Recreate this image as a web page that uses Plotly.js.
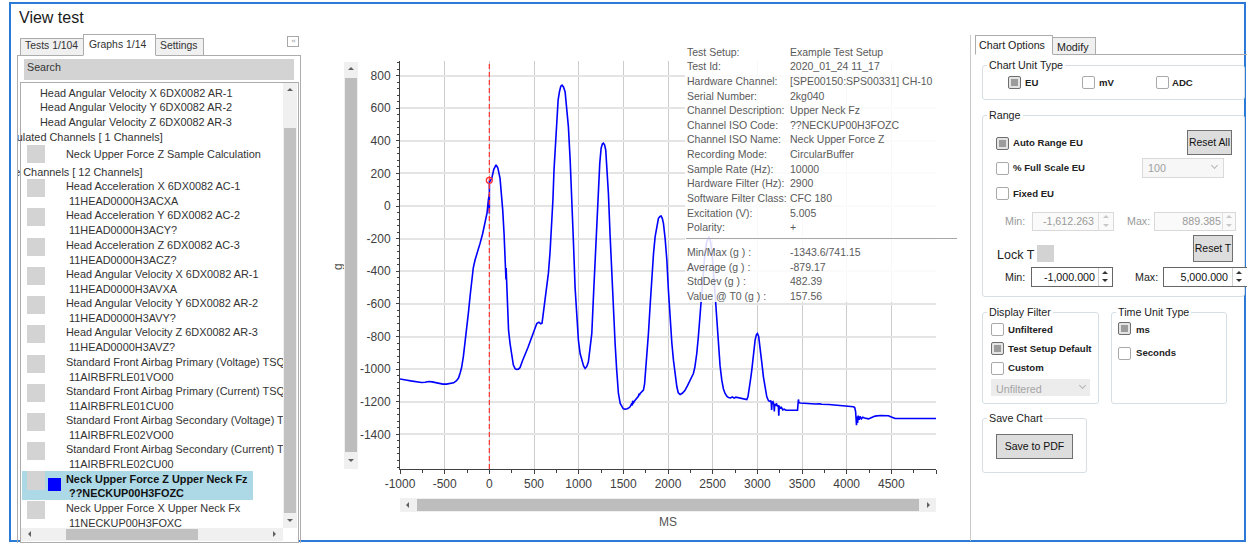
<!DOCTYPE html>
<html>
<head>
<meta charset="utf-8">
<script src="https://cdn.plot.ly/plotly-3.0.1.min.js"></script>
<style>
html,body{margin:0;padding:0;background:#fff;}
#root{position:relative;width:1247px;height:543px;overflow:hidden;font-family:'Liberation Sans',Arial,sans-serif;}
#chart{position:absolute;left:0;top:0;width:1247px;height:543px;}
.a{position:absolute;white-space:nowrap;box-sizing:border-box;}
</style>
</head>
<body>
<div id="root"><div id="chart"></div></div>
<script>
// ---------------- DATA ----------------
const timeMs = [
 -1000,-960,-920,-880,-840,-800,-760,-720,-680,-640,
 -600,-560,-520,-480,-440,-400,-370,-345,-325,-309,
 -290,-272,-255,-235,-215,-197,-180,-160,-130,-104,
 -75,-48,-25,-11,-3,-1,0,1,5,27,
 50,75,95,120,135,150,165,176,183,186,
 188,202,215,232,250,269,290,306,325,344,
 370,400,430,456,475,493,510,531,555,575,
 590,605,624,645,661,680,699,712,724,740,
 755,770,785,800,814,830,848,865,885,905,
 922,940,960,975,986,997,1016,1035,1055,1072,
 1090,1109,1128,1147,1165,1184,1200,1221,1236,1251,
 1265,1277,1290,1303,1318,1333,1352,1371,1390,1408,
 1425,1445,1465,1483,1500,1520,1545,1565,1576,1590,
 1600,1605,1615,1632,1655,1670,1675,1680,1688,1705,
 1725,1738,1751,1765,1781,1800,1819,1838,1856,1875,
 1893,1910,1923,1936,1949,1968,1987,2005,2024,2043,
 2061,2080,2099,2115,2136,2160,2191,2220,2247,2265,
 2284,2300,2322,2340,2359,2378,2396,2415,2434,2448,
 2460,2475,2490,2508,2527,2545,2565,2583,2602,2620,
 2639,2660,2677,2700,2720,2740,2760,2789,2820,2850,
 2870,2882,2895,2908,2922,2938,2955,2975,2990,3001,
 3015,3031,3050,3068,3087,3106,3125,3140,3150,3155,
 3160,3165,3175,3185,3190,3195,3205,3215,3225,3235,
 3240,3245,3255,3270,3285,3300,3320,3348,3380,3420,
 3450,3455,3460,3465,3480,3535,3600,3650,3700,3722,
 3800,3850,3908,3960,4000,4050,4076,4090,4100,4110,
 4115,4122,4130,4140,4150,4165,4180,4200,4244,4280,
 4319,4375,4420,4468,4500,4543,4600,4700,4800,4900,
 5000
];
const neckFzG = [
 -1060,-1062,-1068,-1072,-1076,-1078,-1082,-1080,-1076,-1078,
 -1084,-1088,-1092,-1092,-1088,-1084,-1072,-1055,-1020,-986,
 -920,-843,-760,-658,-550,-454,-380,-331,-280,-229,
 -170,-106,-40,37,60,70,-45,157.56,150,170,
 225,252,235,170,90,-25,-170,-290,-330,-450,
 -380,-658,-760,-843,-920,-975,-998,-1002,-1000,-990,
 -950,-914,-870,-832,-800,-771,-745,-720,-712,-722,
 -718,-660,-577,-480,-413,-280,-127,40,221,400,
 569,650,701,735,741.15,730,701,600,487,280,
 78,-200,-500,-640,-740,-822,-904,-945,-980,-996,
 -985,-955,-880,-781,-560,-331,-100,118,260,354,
 380,385,375,344,220,78,-180,-434,-650,-843,
 -1000,-1149,-1210,-1231,-1243,-1245,-1243,-1236,-1231,-1215,
 -1222,-1195,-1205,-1190,-1170,-1165,-1150,-1160,-1149,-1140,
 -1129,-1090,-1006,-900,-781,-610,-434,-290,-188,-120,
 -75,-64,-61,-75,-106,-200,-331,-520,-699,-840,
 -945,-1040,-1108,-1145,-1155,-1148,-1129,-1100,-1067,-1045,
 -1027,-990,-904,-800,-658,-500,-372,-280,-219,-195,
 -188,-215,-270,-390,-536,-710,-863,-980,-1067,-1120,
 -1149,-1168,-1174,-1176,-1170,-1178,-1172,-1176,-1180,-1180,
 -1184,-1186,-1170,-1129,-1070,-1006,-920,-822,-788,-781,
 -800,-863,-960,-1047,-1120,-1170,-1194,-1198,-1195,-1200,
 -1250,-1205,-1200,-1215,-1260,-1215,-1225,-1210,-1230,-1220,
 -1285,-1225,-1240,-1235,-1250,-1245,-1252,-1252,-1250,-1252,
 -1252,-1215,-1186,-1205,-1208,-1211,-1212,-1214,-1213,-1215,
 -1217,-1219,-1221,-1224,-1226,-1230,-1231,-1235,-1260,-1343.6,
 -1290,-1330,-1285,-1310,-1290,-1305,-1295,-1300,-1305,-1296,
 -1288,-1284,-1286,-1286,-1293,-1303,-1303,-1303,-1303,-1303,
 -1303
];
const t0Time = 0;
const t0Value = 157.56;
const yRange = [-1612.263, 889.385];
const xRange = [-1000, 5000];
const xTickVals = [-1000,-500,0,500,1000,1500,2000,2500,3000,3500,4000,4500,5000];
const xTickText = ['-1000','-500','0','500','1000','1500','2000','2500','3000','3500','4000','4500',''];
const yTickVals = [800,600,400,200,0,-200,-400,-600,-800,-1000,-1200,-1400];
const yTickText = ['800','600','400','200','0','-200','-400','-600','-800','-1000','-1200','-1400'];
const yAxisTitle = 'g';
const xAxisTitle = 'MS';

const infoLabels = ['Test Setup:','Test Id:','Hardware Channel:','Serial Number:','Channel Description:','Channel ISO Code:','Channel ISO Name:','Recording Mode:','Sample Rate (Hz):','Hardware Filter (Hz):','Software Filter Class:','Excitation (V):','Polarity:'];
const infoValues = ['Example Test Setup','2020_01_24 11_17','[SPE00150:SPS00331] CH-10','2kg040','Upper Neck Fz','??NECKUP00H3FOZC','Neck Upper Force Z','CircularBuffer','10000','2900','CFC 180','5.005','+'];
const statLabels = ['Min/Max (g ) :','Average (g ) :','StdDev (g ) :','Value @ T0 (g ) :'];
const statValues = ['-1343.6/741.15','-879.17','482.39','157.56'];

const topAvNames = ['Head Angular Velocity X 6DX0082 AR-1','Head Angular Velocity Y 6DX0082 AR-2','Head Angular Velocity Z 6DX0082 AR-3'];
const groupHeaders = ['Calculated Channels [ 1 Channels]','Hardware Channels [ 12 Channels]'];
const calcChannels = ['Neck Upper Force Z Sample Calculation'];
const sensorNames = ['Head Acceleration X 6DX0082 AC-1','Head Acceleration Y 6DX0082 AC-2','Head Acceleration Z 6DX0082 AC-3','Head Angular Velocity X 6DX0082 AR-1','Head Angular Velocity Y 6DX0082 AR-2','Head Angular Velocity Z 6DX0082 AR-3','Standard Front Airbag Primary (Voltage) TSQ','Standard Front Airbag Primary (Current) TSQ','Standard Front Airbag Secondary (Voltage) TSQ','Standard Front Airbag Secondary (Current) TSQ','Neck Upper Force Z Upper Neck Fz','Neck Upper Force X Upper Neck Fx'];
const sensorCodes = ['11HEAD0000H3ACXA','11HEAD0000H3ACY?','11HEAD0000H3ACZ?','11HEAD0000H3AVXA','11HEAD0000H3AVY?','11HEAD0000H3AVZ?','11AIRBFRLE01VO00','11AIRBFRLE01CU00','11AIRBFRLE02VO00','11AIRBFRLE02CU00','??NECKUP00H3FOZC','11NECKUP00H3FOXC'];
const selectedChannel = 10;

// ---------------- CHART ----------------
const W = 1247, H = 543;
const M = {l:400, r:311, t:61, b:74};
const PW = W - M.l - M.r, PH = H - M.t - M.b;
const px2x = px => (px - M.l) / PW;
const px2y = py => (H - M.b - py) / PH;
const FONT = 'Liberation Sans, Arial, sans-serif';

const annotations = [];
const infoFont = {family: FONT, size: 10.5, color: '#5a5a5a'};
infoLabels.forEach((lab, i) => {
  const cy = 51.7 + i * 14.63;
  annotations.push({xref:'paper', yref:'paper', x:px2x(687), y:px2y(cy), xanchor:'left', yanchor:'middle', text:lab, showarrow:false, font:infoFont, borderpad:0, borderwidth:0});
  annotations.push({xref:'paper', yref:'paper', x:px2x(790), y:px2y(cy), xanchor:'left', yanchor:'middle', text:infoValues[i], showarrow:false, font:infoFont, borderpad:0, borderwidth:0});
});
statLabels.forEach((lab, i) => {
  const cy = 251.7 + i * 14.8;
  annotations.push({xref:'paper', yref:'paper', x:px2x(687), y:px2y(cy), xanchor:'left', yanchor:'middle', text:lab, showarrow:false, font:infoFont, borderpad:0, borderwidth:0});
  annotations.push({xref:'paper', yref:'paper', x:px2x(790), y:px2y(cy), xanchor:'left', yanchor:'middle', text:statValues[i], showarrow:false, font:infoFont, borderpad:0, borderwidth:0});
});
annotations.push({xref:'paper', yref:'paper', x:px2x(338), y:px2y(267), xanchor:'center', yanchor:'middle', text:yAxisTitle, textangle:-90, showarrow:false, font:{family:FONT, size:12, color:'#555'}});
annotations.push({xref:'paper', yref:'paper', x:px2x(668), y:px2y(522), xanchor:'center', yanchor:'middle', text:xAxisTitle, showarrow:false, font:{family:FONT, size:12, color:'#555'}});

const shapes = [
  {type:'line', xref:'x', yref:'paper', x0:t0Time, x1:t0Time, y0:0, y1:1, line:{color:'#ff3030', width:1.2, dash:'5px,3px'}, layer:'above'},
  {type:'rect', xref:'paper', yref:'paper', x0:px2x(685), x1:px2x(957), y0:px2y(302), y1:px2y(43), fillcolor:'rgba(255,255,255,0.86)', line:{width:0}, layer:'above'},
  {type:'line', xref:'paper', yref:'paper', x0:px2x(686), x1:px2x(957), y0:px2y(238.5), y1:px2y(238.5), line:{color:'#a8a8a8', width:1}, layer:'above'}
];

const traces = [
  {x: timeMs, y: neckFzG, type:'scatter', mode:'lines', line:{color:'#0000ff', width:1.6}, hoverinfo:'none'},
  {x: [t0Time], y: [t0Value], type:'scatter', mode:'markers', marker:{symbol:'circle-open', size:6, color:'#ff3030', line:{width:1.3, color:'#ff3030'}}, hoverinfo:'none'}
];

const layout = {
  width: W, height: H,
  margin: M,
  paper_bgcolor:'rgba(0,0,0,0)', plot_bgcolor:'#fff',
  showlegend:false,
  font:{family:FONT, size:12, color:'#404040'},
  xaxis:{range:xRange, tickmode:'array', tickvals:xTickVals, ticktext:xTickText,
    showgrid:true, gridcolor:'#cccccc', gridwidth:1, zeroline:false,
    showline:true, linecolor:'#404040', linewidth:1,
    ticks:'outside', ticklen:4, tickcolor:'#404040', tickfont:{family:FONT, size:12, color:'#404040'},
    minor:{tickmode:'linear', tick0:-1000, dtick:250, ticks:'outside', ticklen:3, tickcolor:'#404040', showgrid:false},
    fixedrange:true},
  yaxis:{range:yRange, tickmode:'array', tickvals:yTickVals, ticktext:yTickText,
    showgrid:true, gridcolor:'#e4e4e4', gridwidth:2, zeroline:false,
    showline:true, linecolor:'#404040', linewidth:1,
    ticks:'outside', ticklen:3, tickcolor:'#404040', ticklabelstandoff:3, tickfont:{family:FONT, size:12, color:'#404040'},
    minor:{tickmode:'linear', tick0:0, dtick:40, ticks:'outside', ticklen:2, tickcolor:'#404040', showgrid:false},
    fixedrange:true},
  shapes: shapes,
  annotations: annotations
};
Plotly.newPlot('chart', traces, layout, {displayModeBar:false, staticPlot:true});

// ---------------- UI CHROME ----------------
const root = document.getElementById('root');
function el(x, y, w, h, css, text, parent) {
  const d = document.createElement('div');
  d.className = 'a';
  d.style.cssText = 'left:' + x + 'px;top:' + y + 'px;' + (w != null ? 'width:' + w + 'px;' : '') + (h != null ? 'height:' + h + 'px;' : '') + (css || '');
  if (text != null) d.textContent = text;
  (parent || root).appendChild(d);
  return d;
}
function txt(x, cy, s, css, parent) {
  return el(x, cy - 7, null, 14, 'font-size:10.7px;line-height:14px;color:#333;' + (css || ''), s, parent);
}
function tri(x, y, dir, parent, c) {
  c = c || '#606060';
  let css = 'width:0;height:0;';
  if (dir === 'up') css += 'border-left:3px solid transparent;border-right:3px solid transparent;border-bottom:3px solid ' + c + ';';
  if (dir === 'down') css += 'border-left:3px solid transparent;border-right:3px solid transparent;border-top:3px solid ' + c + ';';
  if (dir === 'left') css += 'border-top:3px solid transparent;border-bottom:3px solid transparent;border-right:3px solid ' + c + ';';
  if (dir === 'right') css += 'border-top:3px solid transparent;border-bottom:3px solid transparent;border-left:3px solid ' + c + ';';
  return el(x, y, null, null, css, null, parent);
}
function cb(x, y, checked) {
  if (checked) {
    el(x, y, 13, 13, 'border:1px solid #6e6e6e;background:#e4e4e4;border-radius:2px;');
    el(x + 3, y + 3, 7, 7, 'background:#9c9c9c;');
  } else {
    el(x, y, 13, 13, 'border:1px solid #a9a9a9;background:#fff;border-radius:2px;');
  }
}
function grp(x, y, w, h, title, tx) {
  el(x, y, w, h, 'border:1px solid #d5dfe5;border-radius:3px;');
  el((tx || x + 5), y - 7, null, 14, 'background:#fff;padding:0 2px;font-size:10.7px;line-height:14px;color:#222;', title);
}
function btn(x, y, w, h, label, fs) {
  el(x, y, w, h, 'border:1px solid #707070;background:#dddddd;text-align:center;color:#111;font-size:' + (fs || 10.5) + 'px;line-height:' + (h - 2) + 'px;', label);
}
function chev(x, y) {
  el(x, y, 5, 5, 'border-right:1px solid #b5b5b5;border-bottom:1px solid #b5b5b5;transform:rotate(45deg);');
}
const bold = 'font-weight:bold;font-size:9.6px;color:#222;';

// window frame
el(9, 2, 1237, 540, 'border:2px solid #2b7bd6;pointer-events:none;');
el(19, 9, null, 18, 'font-size:16px;line-height:18px;color:#1b1b1b;', 'View test');

// left panel
el(17, 55, 284, 490, 'border:1px solid #acacac;');
el(20, 38, 64, 18, 'border:1px solid #acacac;background:#f0f0f0;');
txt(25, 46, 'Tests 1/104', 'font-size:10.4px;');
el(155, 38, 49, 18, 'border:1px solid #acacac;background:#f0f0f0;');
txt(160, 46, 'Settings', 'font-size:10.4px;');
el(83, 34, 73, 22, 'border:1px solid #acacac;border-bottom:1px solid #fff;background:#fff;');
txt(89, 44.5, 'Graphs 1/14', 'font-size:10.4px;');
el(287, 36, 12, 11, 'border:1px solid #a8a8a8;background:#fff;font-size:7px;line-height:9px;text-align:center;color:#888;letter-spacing:-1px;font-family:DejaVu Sans,sans-serif;', '‹‹');
el(24, 59, 270, 21, 'background:#d3d3d3;');
txt(27, 67, 'Search', 'color:#333;');
el(20, 82, 279, 461, 'border:1px solid #acacac;background:#fff;');
// list vertical scrollbar
el(283, 83, 14, 445, 'background:#f0f0f0;');
tri(287, 88, 'up');
el(284, 128, 12, 385, 'background:#c1c1c1;');
tri(287, 519, 'down');
// list horizontal scrollbar
el(21, 528, 262, 13, 'background:#f0f0f0;');
tri(28, 531, 'left');
el(66, 529, 132, 11, 'background:#c1c1c1;');
tri(273, 531, 'right');

// list contents
const LX = 18, LY = 83;
const list = el(LX, LY, 265, 445, 'overflow:hidden;');
function ltxt(x, cy, s, css) { return txt(x - LX, cy - LY, s, css, list); }
function lbox(x, y, w, h, css) { return el(x - LX, y - LY, w, h, css, null, list); }
const itemCss = 'font-size:10.9px;';
topAvNames.forEach((n, i) => ltxt(40, 92.7 + i * 14.5, n, itemCss));
ltxt(-5, 136.7, groupHeaders[0], itemCss);
lbox(27, 145, 18, 18, 'background:#d3d3d3;');
ltxt(66, 154, calcChannels[0], itemCss);
ltxt(-27, 171.7, groupHeaders[1], itemCss);
sensorNames.forEach((n, i) => {
  const cy = 186 + i * 29.25;
  if (i === selectedChannel) {
    lbox(22, cy - 8, 231, 29, 'background:#add8e6;');
    lbox(27, cy - 8, 18, 19, 'background:#d3d3d3;');
    lbox(48, cy - 1, 13, 13, 'background:#0000ff;');
    ltxt(66, cy, n, itemCss + 'font-weight:bold;color:#111;');
    ltxt(69, cy + 14, sensorCodes[i], itemCss + 'font-weight:bold;color:#111;');
  } else {
    lbox(27, cy - 7, 18, 18, 'background:#d3d3d3;');
    ltxt(66, cy, n, itemCss);
    ltxt(69, cy + 15, sensorCodes[i], itemCss);
  }
});

// chart scrollbars
el(344, 62, 14, 407, 'background:#f0f0f0;');
tri(348, 67, 'up');
el(345, 78, 12, 374, 'background:#bdbdbd;');
tri(348, 459, 'down');
el(400, 498, 536, 14, 'background:#f0f0f0;');
tri(406, 502, 'left');
el(417, 499, 502, 12, 'background:#bdbdbd;');
tri(927, 502, 'right');

// separator
el(970, 35, 1, 506, 'background:#c9c9c9;');

// right panel tabs
el(1095, 54, 152, 1, 'background:#acacac;');
el(1052, 37, 44, 18, 'border:1px solid #acacac;background:#f0f0f0;');
txt(1057, 46.5, 'Modify', 'font-size:10.7px;color:#222;');
el(975, 35, 78, 20, 'border:1px solid #acacac;border-bottom:1px solid #fff;background:#fff;');
txt(979, 45, 'Chart Options', 'font-size:10.7px;color:#222;');

// Chart Unit Type
grp(982, 65, 263, 35, 'Chart Unit Type', 987);
cb(1008, 76, true);  txt(1025, 83, 'EU', bold);
cb(1082, 76, false); txt(1099, 83, 'mV', bold);
cb(1156, 76, false); txt(1172, 83, 'ADC', bold);

// Range
grp(982, 115, 263, 182, 'Range', 987);
cb(996, 137, true);  txt(1013, 143, 'Auto Range EU', bold);
btn(1187, 130, 45, 25, 'Reset All', 10.4);
cb(996, 162, false); txt(1013, 168, '% Full Scale EU', bold);
el(1142, 158, 82, 20, 'border:1px solid #dadada;background:#f7f7f7;');
txt(1148, 168, '100', 'color:#a0a0a0;');
chev(1212, 163);
cb(996, 187, false); txt(1013, 194, 'Fixed EU', bold);
txt(1005, 221, 'Min:', 'color:#9a9a9a;');
el(1032, 212, 82, 19, 'border:1px solid #d9d9d9;background:#fafafa;');
el(1032, 214, 62, 14, 'text-align:right;font-size:10.7px;line-height:14px;color:#9a9a9a;', '-1,612.263');
el(1098, 213, 1, 17, 'background:#e0e0e0;');
tri(1103, 215, 'up', null, '#c8c8c8'); tri(1103, 224, 'down', null, '#c8c8c8');
txt(1127, 221, 'Max:', 'color:#9a9a9a;');
el(1154, 212, 82, 19, 'border:1px solid #d9d9d9;background:#fafafa;');
el(1154, 214, 67, 14, 'text-align:right;font-size:10.7px;line-height:14px;color:#9a9a9a;', '889.385');
el(1222, 213, 1, 17, 'background:#e0e0e0;');
tri(1226, 215, 'up', null, '#c8c8c8'); tri(1226, 224, 'down', null, '#c8c8c8');
el(997, 247, null, 16, 'font-size:12.5px;line-height:16px;color:#222;', 'Lock T');
el(1037, 245, 17, 17, 'background:#d3d3d3;');
btn(1193, 235, 40, 27, 'Reset T', 10.5);
txt(1005, 277, 'Min:', 'color:#222;');
el(1031, 267, 82, 20, 'border:1px solid #666;background:#fff;');
el(1031, 270, 64, 14, 'text-align:right;font-size:10.7px;line-height:14px;color:#111;', '-1,000.000');
el(1098, 268, 1, 18, 'background:#d0d0d0;');
tri(1102, 271, 'up', null, '#333'); tri(1102, 279, 'down', null, '#333');
txt(1135, 277, 'Max:', 'color:#222;');
el(1163, 267, 90, 20, 'border:1px solid #666;background:#fff;');
el(1163, 270, 65, 14, 'text-align:right;font-size:10.7px;line-height:14px;color:#111;', '5,000.000');
el(1232, 268, 1, 18, 'background:#d0d0d0;');
tri(1236, 271, 'up', null, '#333'); tri(1236, 279, 'down', null, '#333');

// Display Filter
grp(982, 312, 117, 92, 'Display Filter', 987);
cb(991, 323, false); txt(1008, 330, 'Unfiltered', bold);
cb(991, 342, true);  txt(1008, 349, 'Test Setup Default', bold);
cb(991, 362, false); txt(1008, 368, 'Custom', bold);
el(991, 379, 99, 17, 'background:#ececec;');
txt(996, 388.5, 'Unfiltered', 'color:#a5a5a5;');
chev(1080, 383);

// Time Unit Type
grp(1111, 312, 116, 92, 'Time Unit Type', 1116);
cb(1118, 322, true);  txt(1136, 330, 'ms', bold);
cb(1118, 347, false); txt(1136, 353, 'Seconds', bold);

// Save Chart
grp(982, 418, 105, 55, 'Save Chart', 987);
btn(996, 434, 77, 25, 'Save to PDF', 10.5);
</script>
</body>
</html>
